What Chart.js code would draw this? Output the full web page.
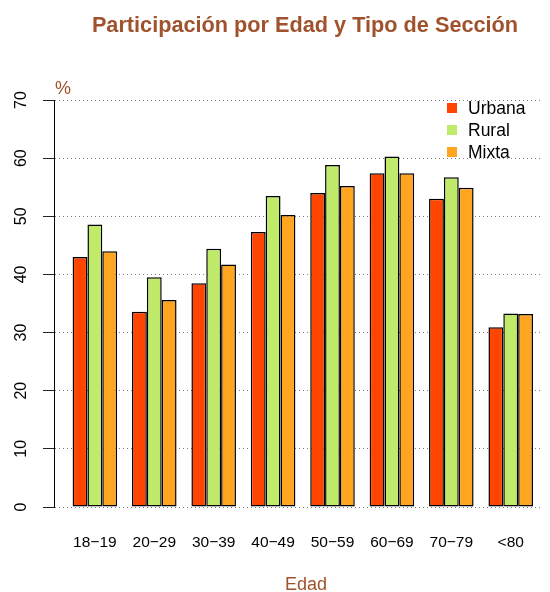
<!DOCTYPE html>
<html>
<head>
<meta charset="utf-8">
<script src="https://cdn.jsdelivr.net/npm/chart.js@4/dist/chart.umd.min.js"></script>
<style>
  html, body { margin: 0; padding: 0; background: #fff; }
  #wrap { width: 550px; height: 592px; }
</style>
</head>
<body>
<div id="wrap"><canvas id="partChart" width="550" height="592"></canvas></div>
<script>
// age groups and participation (%) by section type
const ageGroups = ['18\u221219', '20\u221229', '30\u221239', '40\u221249', '50\u221259', '60\u221269', '70\u221279', '<80'];
const urbana = [43.0, 33.6, 38.5, 47.3, 54.0, 57.4, 53.0, 30.9];
const rural  = [48.6, 39.5, 44.4, 53.5, 58.8, 60.3, 56.7, 33.3];
const mixta  = [44.0, 35.6, 41.7, 50.2, 55.2, 57.4, 54.9, 33.2];
const seriesNames = ['Urbana', 'Rural', 'Mixta'];
const yTicks = [0, 10, 20, 30, 40, 50, 60, 70];

const brown = '#A0522D';
const fontFam = '"Liberation Sans", Arial, Helvetica, sans-serif';
const colors = ['#FF4500', '#C0EB6A', '#FFA520'];

function toPoints(values) {
    return values.map((v, i) => ({ x: i + 1, y: v }));
}

// extra texts: title, unit, axis name, legend inside the plot
const textsPlugin = {
    id: 'texts',
    afterDraw(chart) {
        const ctx = chart.ctx;
        ctx.save();
        ctx.fillStyle = brown;
        ctx.textAlign = 'center';
        ctx.textBaseline = 'middle';
        ctx.font = 'bold 21.7px ' + fontFam;
        ctx.fillText('Participación por Edad y Tipo de Sección', 305, 26);
        ctx.font = '18px ' + fontFam;
        ctx.fillText('%', 63, 89);
        ctx.fillText('Edad', 306, 585);

        ctx.textAlign = 'left';
        ctx.font = '17.5px ' + fontFam;
        chart.data.datasets.forEach((ds, i) => {
            const y = 108 + i * 22;
            ctx.fillStyle = ds.backgroundColor;
            ctx.fillRect(447, y - 5, 10, 10);
            ctx.fillStyle = '#000';
            ctx.fillText(ds.label, 468, y + 1);
        });
        ctx.restore();
    }
};

const ctx = document.getElementById('partChart').getContext('2d');
new Chart(ctx, {
    type: 'bar',
    data: {
        datasets: [urbana, rural, mixta].map((vals, i) => ({
            label: seriesNames[i],
            data: toPoints(vals),
            backgroundColor: colors[i],
            borderColor: '#000',
            borderWidth: 1.5,
            borderSkipped: false,
            categoryPercentage: 0.75,
            barPercentage: 1.0
        }))
    },
    options: {
        responsive: false,
        animation: false,
        layout: { padding: { top: 100, right: 2, left: 0, bottom: 0 } },
        plugins: {
            legend: { display: false },
            title: { display: false },
            tooltip: { enabled: false }
        },
        scales: {
            x: {
                type: 'linear',
                offset: false,
                min: 0.312,
                max: 8.504,
                afterFit: s => { s.height = 85; },
                grid: { display: false, drawTicks: false },
                border: { display: false },
                ticks: {
                    stepSize: 1,
                    includeBounds: false,
                    autoSkip: false,
                    maxRotation: 0,
                    padding: 26,
                    color: '#000',
                    font: { family: fontFam, size: 15.5 },
                    callback: v => ageGroups[v - 1]
                }
            },
            y: {
                min: 0,
                max: 70,
                afterFit: s => { s.width = 54; },
                afterBuildTicks: s => { s.ticks = yTicks.map(v => ({ value: v })); },
                grid: {
                    color: '#808080',
                    lineWidth: 1,
                    tickLength: 11,
                    tickColor: '#222',
                    tickBorderDash: []
                },
                border: { display: true, color: '#000', width: 1, dash: [1, 3] },
                ticks: {
                    minRotation: 90,
                    maxRotation: 90,
                    crossAlign: 'center',
                    padding: 13,
                    color: '#000',
                    font: { family: fontFam, size: 16 }
                }
            }
        }
    },
    plugins: [textsPlugin]
});
</script>
</body>
</html>
